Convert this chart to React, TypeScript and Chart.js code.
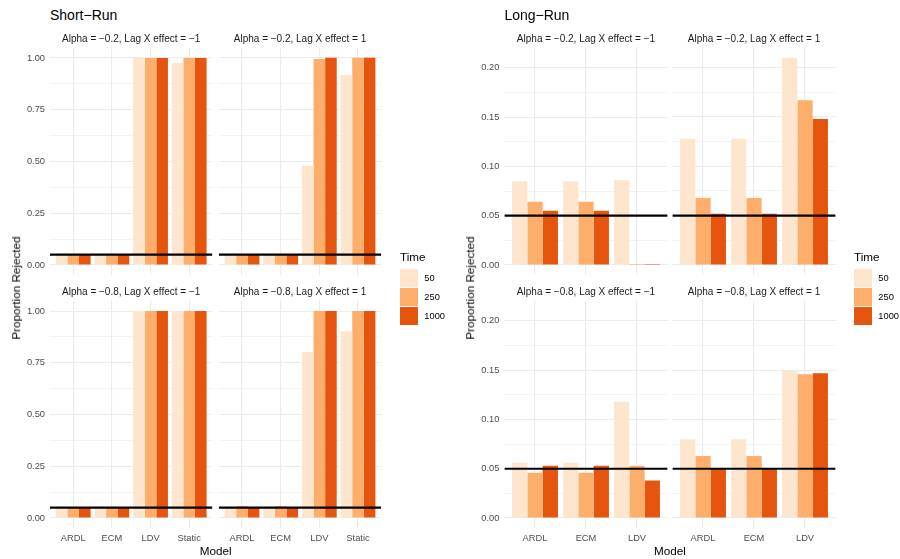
import React, { useEffect, useRef } from 'react';
import { Chart, registerables } from 'chart.js';

Chart.register(...registerables);
Chart.defaults.font.family = '"Liberation Sans", Arial, Helvetica, sans-serif';

// ---------- data ----------
const TIMES = ['50', '250', '1000'];
const TIME_COLORS = ['#FEE6CE', '#FDAE6B', '#E6550D'];

const SR_MODELS = ['ARDL', 'ECM', 'LDV', 'Static'];
const LR_MODELS = ['ARDL', 'ECM', 'LDV'];

const FACET_LABELS = [
  'Alpha = \u22120.2, Lag X effect = \u22121',
  'Alpha = \u22120.2, Lag X effect = 1',
  'Alpha = \u22120.8, Lag X effect = \u22121',
  'Alpha = \u22120.8, Lag X effect = 1',
];

// Short-run: rows = Time (50, 250, 1000), cols = SR_MODELS
const SR_F1 = [
  [0.049, 0.049, 1.0, 0.975],
  [0.05, 0.05, 1.0, 1.0],
  [0.051, 0.051, 1.0, 1.0],
];
const SR_F2 = [
  [0.053, 0.053, 0.479, 0.917],
  [0.05, 0.05, 0.995, 1.0],
  [0.049, 0.049, 1.0, 1.0],
];
const SR_F3 = [
  [0.048, 0.048, 1.0, 1.0],
  [0.05, 0.05, 1.0, 1.0],
  [0.05, 0.05, 1.0, 1.0],
];
const SR_F4 = [
  [0.048, 0.048, 0.802, 0.902],
  [0.057, 0.057, 1.0, 1.0],
  [0.05, 0.05, 1.0, 1.0],
];

// Long-run: rows = Time (50, 250, 1000), cols = LR_MODELS
const LR_F1 = [
  [0.085, 0.085, 0.086],
  [0.064, 0.064, 0.001],
  [0.055, 0.055, 0.001],
];
const LR_F2 = [
  [0.128, 0.128, 0.21],
  [0.068, 0.068, 0.167],
  [0.052, 0.052, 0.148],
];
const LR_F3 = [
  [0.056, 0.056, 0.118],
  [0.046, 0.046, 0.053],
  [0.053, 0.053, 0.038],
];
const LR_F4 = [
  [0.08, 0.08, 0.15],
  [0.063, 0.063, 0.146],
  [0.05, 0.05, 0.147],
];

const SR_Y_TICKS = [0, 0.25, 0.5, 0.75, 1.0];
const LR_Y_TICKS = [0, 0.05, 0.1, 0.15, 0.2];
const REF_LINE = 0.05;

// ---------- layout ----------
const SR_COLS = [[50, 212.4], [218.8, 381.2]];
const LR_COLS = [[504.4, 667.6], [672.4, 835.6]];
const ROWS = [[47.5, 275.3], [300.7, 528.4]];

const FONT = '"Liberation Sans", Arial, Helvetica, sans-serif';

function limits(groups: number[][][]) {
  let mx = 0;
  groups.forEach((g) => g.forEach((r) => r.forEach((v) => { if (v > mx) mx = v; })));
  return [-0.05 * mx, mx * 1.05];
}

type FacetProps = {
  left: number; right: number; top: number; bottom: number;
  models: string[]; series: number[][]; yTicks: number[];
  yMin: number; yMax: number; showX: boolean; showY: boolean;
};

function Facet(p: FacetProps) {
  const ref = useRef<HTMLCanvasElement>(null);
  const W = p.showY ? 45 : 0;
  const H = p.showX ? 20 : 0;
  const cl = Math.floor(p.left - 5 - W);
  const ct = Math.floor(p.top - 10);
  const cw = Math.ceil(p.right + 10) - cl;
  const ch = Math.ceil(p.bottom + H + 10) - ct;
  const pad = {
    left: p.left - W - cl,
    top: p.top - ct,
    right: cl + cw - p.right,
    bottom: ct + ch - p.bottom - H,
  };

  useEffect(() => {
    const n = p.models.length;
    const minor = p.yTicks.slice(0, -1).map((v, i) => (v + p.yTicks[i + 1]) / 2);
    const allY = [...p.yTicks, ...minor].sort((a, b) => a - b);
    const isMajor = (v: number) => p.yTicks.some((t) => Math.abs(t - v) < 1e-9);
    const chart = new Chart(ref.current as HTMLCanvasElement, {
      type: 'bar',
      data: {
        datasets: [
          {
            type: 'line',
            data: [{ x: -0.6, y: REF_LINE }, { x: n - 0.4, y: REF_LINE }],
            borderColor: '#000000',
            borderWidth: 2.2,
            pointRadius: 0,
            order: 0,
          } as any,
          ...p.series.map((vals, k) => ({
            type: 'bar',
            label: TIMES[k],
            data: vals.map((v, i) => ({ x: i, y: v })),
            backgroundColor: TIME_COLORS[k],
            borderWidth: 0,
            categoryPercentage: 0.9,
            barPercentage: 1.0,
            order: 1,
          })),
        ],
      },
      options: {
        animation: false,
        responsive: false,
        devicePixelRatio: 1,
        layout: { padding: pad },
        plugins: { legend: { display: false }, tooltip: { enabled: false } },
        scales: {
          x: {
            type: 'linear',
            min: -0.6,
            max: n - 0.4,
            bounds: 'data',
            offset: false,
            afterBuildTicks: (s: any) => { s.ticks = p.models.map((_, i) => ({ value: i })); },
            afterFit: (s: any) => { s.height = H; },
            ticks: {
              display: p.showX,
              padding: 4,
              color: '#4D4D4D',
              font: { size: 9.3, family: FONT },
              autoSkip: false,
              maxRotation: 0,
              callback: (v: any) => p.models[Math.round(Number(v))] ?? '',
            },
            grid: { drawTicks: false, color: '#EBEBEB', lineWidth: 1.1, offset: false },
            border: { display: false },
          },
          y: {
            type: 'linear',
            min: p.yMin,
            max: p.yMax,
            bounds: 'data',
            beginAtZero: false,
            afterBuildTicks: (s: any) => { s.ticks = allY.map((v) => ({ value: v })); },
            afterFit: (s: any) => { s.width = W; },
            ticks: {
              display: p.showY,
              padding: 5,
              color: '#4D4D4D',
              font: { size: 9.3, family: FONT },
              autoSkip: false,
              callback: (v: any) => (isMajor(Number(v)) ? Number(v).toFixed(2) : ''),
            },
            grid: {
              drawTicks: false,
              color: '#EBEBEB',
              lineWidth: (ctx: any) => (ctx.tick && isMajor(ctx.tick.value) ? 1.1 : 0.6),
            },
            border: { display: false },
          },
        },
      } as any,
    } as any);
    return () => chart.destroy();
  }, []);

  return (
    <canvas
      ref={ref}
      width={cw}
      height={ch}
      style={{ position: 'absolute', left: cl, top: ct, width: cw, height: ch }}
    />
  );
}

function Txt(props: { x: number; y: number; size: number; color?: string; align?: 'center' | 'left'; rotate?: boolean; children: any }) {
  const { x, y, size, color = '#000', align = 'center', rotate = false, children } = props;
  let transform = align === 'center' ? 'translate(-50%, -50%)' : 'translate(0, -50%)';
  if (rotate) transform = 'translate(-50%, -50%) rotate(-90deg)';
  return (
    <div
      style={{
        position: 'absolute', left: x, top: y, fontSize: size, lineHeight: 1, color,
        whiteSpace: 'nowrap', transform, fontFamily: FONT,
      }}
    >
      {children}
    </div>
  );
}

function Legend({ x }: { x: number }) {
  const keyTops = [269, 288.3, 307.3];
  const labelYs = [278.7, 298, 317.3];
  return (
    <>
      <Txt x={x} y={257} size={11.7} align="left">Time</Txt>
      {TIMES.map((t, i) => (
        <div key={'k' + t} style={{ position: 'absolute', left: x, top: keyTops[i], width: 18, height: 17.5, background: TIME_COLORS[i] }} />
      ))}
      {TIMES.map((t, i) => (
        <Txt key={'l' + t} x={x + 24.3} y={labelYs[i]} size={9.3} align="left">{t}</Txt>
      ))}
    </>
  );
}

function Panel(props: { title: string; cols: number[][]; models: string[]; facets: number[][][]; yTicks: number[]; legendX: number; yTitleX: number }) {
  const { title, cols, models, facets, yTicks, legendX, yTitleX } = props;
  const [yMin, yMax] = limits(facets);
  const items = [];
  for (let r = 0; r < 2; r++) {
    for (let c = 0; c < 2; c++) {
      const idx = r * 2 + c;
      items.push(
        <Facet
          key={'f' + idx}
          left={cols[c][0]} right={cols[c][1]} top={ROWS[r][0]} bottom={ROWS[r][1]}
          models={models} series={facets[idx]} yTicks={yTicks}
          yMin={yMin} yMax={yMax} showX={r === 1} showY={c === 0}
        />
      );
      items.push(
        <Txt key={'s' + idx} x={(cols[c][0] + cols[c][1]) / 2} y={r === 0 ? 38.5 : 291.7} size={10} color="#1A1A1A">
          {FACET_LABELS[idx]}
        </Txt>
      );
    }
  }
  const midX = (cols[0][0] + cols[1][1]) / 2;
  return (
    <>
      <Txt x={cols[0][0]} y={15} size={14} align="left">{title}</Txt>
      {items}
      <Txt x={yTitleX} y={288} size={11.7} rotate>Proportion Rejected</Txt>
      <Txt x={midX} y={551} size={11.7}>Model</Txt>
      <Legend x={legendX} />
    </>
  );
}

export default function App() {
  return (
    <div style={{ position: 'absolute', left: 0, top: 0, width: 900, height: 559, background: '#fff', overflow: 'hidden', fontFamily: FONT }}>
      <Panel title={'Short\u2212Run'} cols={SR_COLS} models={SR_MODELS} facets={[SR_F1, SR_F2, SR_F3, SR_F4]} yTicks={SR_Y_TICKS} legendX={400} yTitleX={16} />
      <Panel title={'Long\u2212Run'} cols={LR_COLS} models={LR_MODELS} facets={[LR_F1, LR_F2, LR_F3, LR_F4]} yTicks={LR_Y_TICKS} legendX={854} yTitleX={470} />
    </div>
  );
}
